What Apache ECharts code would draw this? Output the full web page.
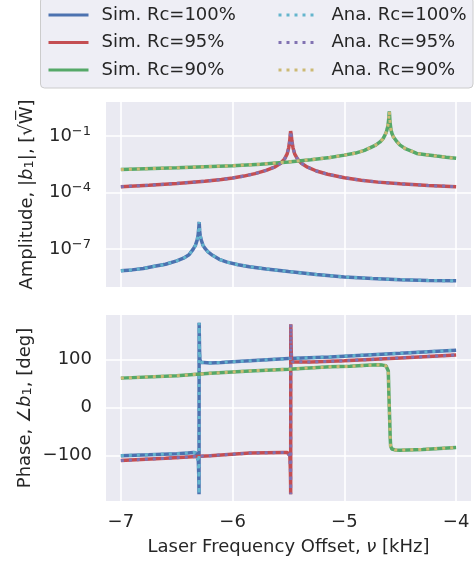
<!DOCTYPE html>
<html>
<head>
<meta charset="utf-8">
<script src="https://cdn.jsdelivr.net/npm/echarts@6/dist/echarts.min.js"></script>
<style>
  html, body { margin: 0; padding: 0; background: #fff; }
  #main { width: 475px; height: 567px; }
</style>
</head>
<body>
<div id="main"></div>
<script>
const simNames = ["Sim. Rc=100%", "Sim. Rc=95%", "Sim. Rc=90%"];
const anaNames = ["Ana. Rc=100%", "Ana. Rc=95%", "Ana. Rc=90%"];
const xTicks = [-7, -6, -5, -4];
const ampTicks = [1e-7, 1e-4, 1e-1];
const phaseTicks = [-100, 0, 100];

// amplitude |b1| [sqrt W]
const ampF100 = [-7, -6.9, -6.8, -6.7, -6.6, -6.5, -6.44, -6.39, -6.353, -6.333, -6.317, -6.309, -6.304, -6.3005, -6.299,
  -6.2975, -6.295, -6.29, -6.28, -6.265, -6.245, -6.22, -6.18, -6.12, -6.05, -5.95, -5.85, -5.7, -5.5, -5.25,
  -5, -4.75, -4.5, -4.25, -4];
const amp100 = [7.08e-9, 7.94e-9, 9.33e-9, 1.23e-8, 1.58e-8, 2.4e-8, 3.31e-8, 5.01e-8, 1.0e-7, 1.58e-7, 3.09e-7, 5.5e-7, 1.1e-6, 2.0e-6, 2.75e-6,
  1.78e-6, 9.55e-7, 5.25e-7, 2.95e-7, 1.58e-7, 1.05e-7, 7.08e-8, 4.68e-8, 2.88e-8, 2.04e-8, 1.48e-8, 1.17e-8, 8.91e-9, 6.46e-9, 4.47e-9,
  3.31e-9, 2.75e-9, 2.4e-9, 2.19e-9, 2.09e-9];

const ampF95 = [-7, -6.75, -6.5, -6.25, -6.1, -6, -5.9, -5.8, -5.7, -5.62, -5.57, -5.535, -5.512, -5.498, -5.489, -5.484, -5.481, -5.4795,
  -5.478, -5.475, -5.47, -5.46, -5.445, -5.42, -5.385, -5.33, -5.25, -5.15, -5, -4.85, -4.7, -4.5, -4.25, -4];
const amp95 = [2.04e-4, 2.45e-4, 3.02e-4, 3.98e-4, 4.9e-4, 5.89e-4, 7.41e-4, 1.0e-3, 1.48e-3, 2.29e-3, 3.55e-3, 6.03e-3, 1.12e-2, 2.4e-2, 5.62e-2, 0.112, 0.178, 0.2,
  0.178, 0.112, 5.62e-2, 2.4e-2, 1.12e-2, 6.03e-3, 3.55e-3, 2.19e-3, 1.38e-3, 9.33e-4, 6.03e-4, 4.47e-4, 3.55e-4, 2.88e-4, 2.34e-4, 2.04e-4];

const ampF90 = [-7, -6.5, -6, -5.75, -5.5, -5.3, -5.129, -5, -4.9, -4.82, -4.771, -4.72, -4.681, -4.655, -4.637, -4.625, -4.616, -4.609, -4.604, -4.6, -4.598,
  -4.596, -4.593, -4.589, -4.583, -4.575, -4.562, -4.535, -4.502, -4.45, -4.4, -4.353, -4.27, -4.174, -4.09, -4];
const amp90 = [1.66e-3, 2.04e-3, 2.63e-3, 3.16e-3, 4.17e-3, 5.5e-3, 7.24e-3, 9.55e-3, 1.23e-2, 1.7e-2, 2.34e-2, 3.24e-2, 4.79e-2, 6.92e-2, 0.11, 0.158, 0.245, 0.398, 0.708, 1.41, 2.0,
  1.41, 0.708, 0.398, 0.214, 0.138, 8.91e-2, 5.37e-2, 3.24e-2, 2.04e-2, 1.55e-2, 1.17e-2, 1.0e-2, 8.51e-3, 7.41e-3, 6.46e-3];

// phase of b1 [deg]
const phF100 = [-7, -6.75, -6.5, -6.4, -6.35, -6.33, -6.315, -6.307, -6.303, -6.3005, -6.2995, -6.298, -6.296, -6.293, -6.285,
  -6.27, -6.2, -6.1, -6, -5.845, -5.5, -5.129, -4.5, -4];
const ph100 = [-100, -98, -95.8, -94.5, -93.4, -94, -97, -110, -140, -180, 176, 150, 120, 100, 94,
  92.5, 92.5, 93.5, 95, 97, 101.5, 105, 112.5, 119];

const phF95 = [-7, -6.6, -6.2, -5.845, -5.7, -5.55, -5.51, -5.495, -5.488, -5.483, -5.481, -5.4805, -5.4795, -5.478, -5.476,
  -5.473, -5.465, -5.45, -5.3, -5, -4.5, -4];
const ph95 = [-110, -105.5, -100, -94.6, -93.8, -93.4, -93.6, -95, -100, -130, -160, -180, 173, 150, 120,
  100, 95, 93.4, 94.5, 97, 103, 109];

const phF90 = [-7, -6.5, -6.2, -5.845, -5.5, -5.129, -4.95, -4.8, -4.7, -4.66, -4.628, -4.607, -4.602, -4.598, -4.594,
  -4.59, -4.586, -4.575, -4.547, -4.5, -4.3, -4];
const ph90 = [61, 66, 71, 76, 79.5, 84.4, 85.5, 87.5, 88.6, 88, 86.5, 76, 30, 0, -30,
  -62, -80, -86, -88, -88.5, -87, -83];

const simColors = ["#4C72B0", "#C44E52", "#55A868"];
const anaColors = ["#64B5CD", "#8172B2", "#CCB974"];
const textColor = "#262626";
const font = "DejaVu Sans";

function pairs(fs, vs) {
  return fs.map(function (f, i) { return [f, vs[i]]; });
}

const ampData = [pairs(ampF100, amp100), pairs(ampF95, amp95), pairs(ampF90, amp90)];
const phData = [pairs(phF100, ph100), pairs(phF95, ph95), pairs(phF90, ph90)];

const series = [];
[0, 1].forEach(function (g) {
  const sets = g === 0 ? ampData : phData;
  for (let k = 0; k < 3; k++) {
    series.push({
      name: simNames[k], type: "line", xAxisIndex: g, yAxisIndex: g,
      data: sets[k], symbol: "none", showSymbol: false, z: 2,
      lineStyle: { color: simColors[k], width: 3.5 },
      itemStyle: { color: simColors[k] },
    });
  }
  for (let k = 0; k < 3; k++) {
    series.push({
      name: anaNames[k], type: "line", xAxisIndex: g, yAxisIndex: g,
      data: sets[k], symbol: "none", showSymbol: false, z: 3,
      lineStyle: { color: anaColors[k], width: 3, type: [3, 5] },
      itemStyle: { color: anaColors[k] },
    });
  }
});

const splitLine = { show: true, lineStyle: { color: "#ffffff", width: 1.6 } };
const labelBase = { color: textColor, fontSize: 18, fontFamily: font };
const nameRich = {
  i: Object.assign({ fontStyle: "italic" }, labelBase),
  sub: { color: textColor, fontFamily: font, fontSize: 13, lineHeight: 10, verticalAlign: "bottom" },
};

function legendOf(names, left) {
  return {
    data: names, orient: "vertical", left: left, top: 6, z: 10, padding: 0,
    itemWidth: 40, itemHeight: 14, itemGap: 9.5, selectedMode: false,
    itemStyle: { opacity: 0 },
    lineStyle: { width: 3 },
    textStyle: { color: textColor, fontSize: 18, fontFamily: font, padding: [0, 0, 0, 8] },
  };
}

const chart = echarts.init(document.getElementById("main"));
chart.setOption({
  animation: false,
  backgroundColor: "#ffffff",
  graphic: [{
    type: "rect", z: 0,
    shape: { x: 40.5, y: -3, width: 432.5, height: 91, r: 4 },
    style: { fill: "rgba(234,234,242,0.8)", stroke: "#cccccc", lineWidth: 1 },
  }],
  legend: [legendOf(simNames, 47), legendOf(anaNames, 277)],
  grid: [
    { left: 106, top: 102, width: 365, height: 185, show: true, backgroundColor: "#EAEAF2", borderWidth: 0 },
    { left: 106, top: 315, width: 365, height: 186, show: true, backgroundColor: "#EAEAF2", borderWidth: 0 },
  ],
  xAxis: [0, 1].map(function (g) {
    return {
      type: "value", gridIndex: g, min: -7.133, max: -3.867,
      axisLine: { show: false }, axisTick: { show: false, customValues: xTicks },
      axisLabel: Object.assign({ show: g === 1, margin: 12, customValues: xTicks,
        formatter: function (v) { return String(v).replace("-", "\u2212"); } }, labelBase),
      splitLine: splitLine,
      name: g === 1 ? "Laser Frequency Offset, {i|\u03bd} [kHz]" : "",
      nameLocation: "middle", nameGap: 37, nameMoveOverlap: false,
      nameTextStyle: Object.assign({ rich: nameRich }, labelBase),
    };
  }),
  yAxis: [
    {
      type: "log", gridIndex: 0, logBase: 10, min: 9.84e-10, max: 6.25,
      axisLine: { show: false }, axisTick: { show: false, customValues: ampTicks },
      axisLabel: Object.assign({
        margin: 15, customValues: ampTicks,
        formatter: function (v) {
          const e = Math.round(Math.log10(v));
          return "{b|10}{s|" + String(e).replace("-", "\u2212") + "}";
        },
        rich: {
          b: Object.assign({ lineHeight: 22 }, labelBase),
          s: { color: textColor, fontFamily: font, fontSize: 13, lineHeight: 12, verticalAlign: "top" },
        },
      }, labelBase),
      splitLine: splitLine,
      name: "Amplitude, |{i|b}{sub|1}|, [\u221aW\u0305]",
      nameLocation: "middle", nameRotate: 90, nameGap: 70, nameMoveOverlap: false,
      nameTextStyle: Object.assign({ rich: nameRich }, labelBase),
    },
    {
      type: "value", gridIndex: 1, min: -194, max: 192,
      axisLine: { show: false }, axisTick: { show: false, customValues: phaseTicks },
      axisLabel: Object.assign({ margin: 14, customValues: phaseTicks,
        formatter: function (v) { return String(v).replace("-", "\u2212"); } }, labelBase),
      splitLine: splitLine,
      name: "Phase, \u2220{i|b}{sub|1}, [deg]",
      nameLocation: "middle", nameRotate: 90, nameGap: 72, nameMoveOverlap: false,
      nameTextStyle: Object.assign({ rich: nameRich }, labelBase),
    },
  ],
  series: series,
});
</script>
</body>
</html>
